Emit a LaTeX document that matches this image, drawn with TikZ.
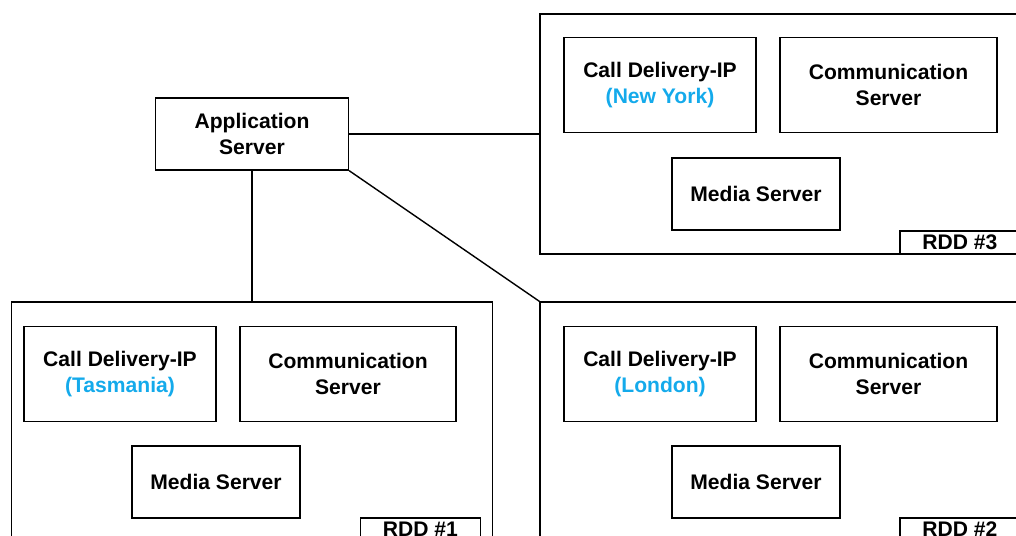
\documentclass[tikz,border=0pt]{standalone}
\usepackage{fontspec}
\setmainfont{Liberation Sans}
\definecolor{cityblue}{RGB}{20,170,235}
\tikzset{
  unit/.style={draw, line width=0.8pt, align=center, inner sep=0pt,
    font=\bfseries\fontsize{12}{15}\selectfont},
  rdd/.style={draw, line width=0.8pt, inner sep=0pt},
  tag/.style={draw, line width=0.8pt, anchor=south east, inner sep=0pt,
    minimum width=2.4cm, minimum height=0.46cm,
    font=\bfseries\fontsize{12}{14}\selectfont},
  link/.style={line width=0.8pt}
}
\begin{document}
\begin{tikzpicture}[x=0.02cm, y=-0.02cm]
\clip (0,0) rectangle (1016,536);
\useasboundingbox (0,0) rectangle (1016,536);

\node[unit, minimum width=3.86cm, minimum height=1.44cm] (app) at (252,134) {Application\\Server};

% RDD #3
\node[rdd, minimum width=9.84cm, minimum height=4.8cm] (rddC) at (786,134) {};
\node[unit, minimum width=3.84cm, minimum height=1.9cm] (cdC) at (660,85) {Call Delivery-IP\\{\color{cityblue}(New York)}};
\node[unit, minimum width=4.34cm, minimum height=1.9cm] (comC) at (888.5,85) {Communication\\Server};
\node[unit, minimum width=3.36cm, minimum height=1.44cm] (medC) at (756,194) {Media Server};
\node[tag] (tagC) at ([xshift=-0.24cm]rddC.south east) {RDD \#3};

% RDD #1
\node[rdd, minimum width=9.62cm, minimum height=4.78cm] (rddA) at (252,421.5) {};
\node[unit, minimum width=3.84cm, minimum height=1.9cm] (cdA) at (120,374) {Call Delivery-IP\\{\color{cityblue}(Tasmania)}};
\node[unit, minimum width=4.32cm, minimum height=1.9cm] (comA) at (348,374) {Communication\\Server};
\node[unit, minimum width=3.36cm, minimum height=1.44cm] (medA) at (216,482) {Media Server};
\node[tag] (tagA) at ([xshift=-0.24cm]rddA.south east) {RDD \#1};

% RDD #2
\node[rdd, minimum width=9.84cm, minimum height=4.78cm] (rddB) at (786,421.5) {};
\node[unit, minimum width=3.84cm, minimum height=1.9cm] (cdB) at (660,374) {Call Delivery-IP\\{\color{cityblue}(London)}};
\node[unit, minimum width=4.34cm, minimum height=1.9cm] (comB) at (888.5,374) {Communication\\Server};
\node[unit, minimum width=3.36cm, minimum height=1.44cm] (medB) at (756,482) {Media Server};
\node[tag] (tagB) at ([xshift=-0.24cm]rddB.south east) {RDD \#2};

\draw[link] (app.east) -- (rddC.west);
\draw[link] (app.south) -- (rddA.north);
\draw[link] (app.south east) -- (rddB.north west);
\end{tikzpicture}
\end{document}
